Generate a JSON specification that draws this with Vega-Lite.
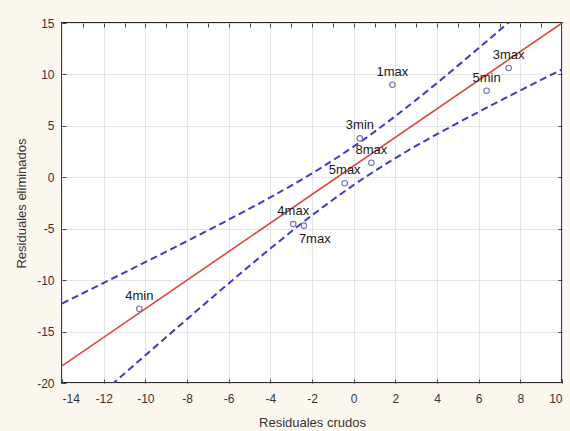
{
  "$schema": "https://vega.github.io/schema/vega-lite/v6.json",
  "autosize": {"type": "none"},
  "width": 500,
  "height": 360,
  "padding": {"left": 62, "top": 23, "right": 8, "bottom": 48},
  "background": "#fcf8ef",
  "config": {
    "view": {"stroke": "#2b2b2b", "strokeWidth": 1.8, "fill": "#ffffff"},
    "font": "Liberation Sans",
    "axis": {
      "labelFont": "Liberation Sans",
      "titleFont": "Liberation Sans",
      "labelFontSize": 12,
      "titleFontSize": 13,
      "labelColor": "#333333",
      "titleColor": "#333333",
      "titleFontWeight": "normal",
      "domain": false,
      "tickColor": "#444444",
      "gridColor": "#e4e4e8",
      "gridWidth": 1,
      "labelExpr": "replace(datum.label, '\u2212', '-')"
    }
  },
  "datasets": {
    "puntos": [
      {"crudo": -10.29, "elim": -12.78, "obs": "4min"},
      {"crudo": -2.9, "elim": -4.55, "obs": "4max"},
      {"crudo": -2.39, "elim": -4.7, "obs": "7max"},
      {"crudo": -0.43, "elim": -0.58, "obs": "5max"},
      {"crudo": 0.85, "elim": 1.42, "obs": "8max"},
      {"crudo": 0.3, "elim": 3.78, "obs": "3min"},
      {"crudo": 1.86, "elim": 9.0, "obs": "1max"},
      {"crudo": 6.38, "elim": 8.42, "obs": "5min"},
      {"crudo": 7.44, "elim": 10.62, "obs": "3max"}
    ],
    "ajuste": [
      {"crudo": -14, "elim": -18.34},
      {"crudo": 10, "elim": 15.0}
    ],
    "banda": [
      {"crudo": -14, "inf": -24.41, "sup": -12.27},
      {"crudo": -12, "inf": -20.85, "sup": -10.27},
      {"crudo": -10, "inf": -17.31, "sup": -8.25},
      {"crudo": -8, "inf": -13.79, "sup": -6.21},
      {"crudo": -6, "inf": -10.32, "sup": -4.12},
      {"crudo": -4, "inf": -6.93, "sup": -1.95},
      {"crudo": -2, "inf": -3.7, "sup": 0.38},
      {"crudo": 0, "inf": -0.75, "sup": 2.99},
      {"crudo": 2, "inf": 1.86, "sup": 5.94},
      {"crudo": 4, "inf": 4.19, "sup": 9.17},
      {"crudo": 6, "inf": 6.36, "sup": 12.56},
      {"crudo": 8, "inf": 8.45, "sup": 16.03},
      {"crudo": 10, "inf": 10.49, "sup": 19.55}
    ]
  },
  "resolve": {"axis": {"x": "independent", "y": "independent"}},
  "layer": [
    {
      "data": {"name": "ajuste"},
      "mark": {"type": "line", "color": "#d9473f", "strokeWidth": 1.6, "clip": true},
      "encoding": {
        "x": {
          "field": "crudo", "type": "quantitative",
          "scale": {"domain": [-14, 10], "nice": false, "zero": false},
          "axis": {
            "title": "Residuales crudos",
            "values": [-14, -12, -10, -8, -6, -4, -2, 0, 2, 4, 6, 8, 10],
            "grid": true, "tickSize": -4, "labelPadding": 14, "titlePadding": 12
          }
        },
        "y": {
          "field": "elim", "type": "quantitative",
          "scale": {"domain": [-20, 15], "nice": false, "zero": false},
          "axis": {
            "title": "Residuales eliminados",
            "values": [-20, -15, -10, -5, 0, 5, 10, 15],
            "grid": true, "tickSize": -4, "labelPadding": 12, "titlePadding": 8
          }
        }
      }
    },
    {
      "data": {"name": "banda"},
      "mark": {"type": "line", "color": "#3a3ac4", "strokeWidth": 2, "strokeDash": [7, 4], "interpolate": "monotone", "clip": true},
      "encoding": {
        "x": {"field": "crudo", "type": "quantitative", "axis": null},
        "y": {"field": "sup", "type": "quantitative", "axis": null}
      }
    },
    {
      "data": {"name": "banda"},
      "mark": {"type": "line", "color": "#3a3ac4", "strokeWidth": 2, "strokeDash": [7, 4], "interpolate": "monotone", "clip": true},
      "encoding": {
        "x": {"field": "crudo", "type": "quantitative", "axis": null},
        "y": {"field": "inf", "type": "quantitative", "axis": null}
      }
    },
    {
      "data": {"name": "puntos"},
      "mark": {"type": "point", "shape": "circle", "filled": false, "size": 30, "strokeWidth": 1.1, "color": "#6f6fb4", "opacity": 1},
      "encoding": {
        "x": {
          "field": "crudo", "type": "quantitative",
          "axis": {
            "orient": "top", "title": null, "labels": false, "grid": false,
            "values": [-13, -12, -11, -10, -9, -8, -7, -6, -5, -4, -3, -2, -1, 0, 1, 2, 3, 4, 5, 6, 7, 8, 9],
            "tickSize": -4
          }
        },
        "y": {
          "field": "elim", "type": "quantitative",
          "axis": {
            "orient": "right", "title": null, "labels": false, "grid": false,
            "values": [-15, -10, -5, 0, 5, 10],
            "tickSize": -4
          }
        }
      }
    },
    {
      "data": {"name": "puntos"},
      "transform": [{"filter": "datum.obs != '7max'"}],
      "mark": {"type": "text", "font": "Liberation Sans", "fontSize": 13, "color": "#1a1a1a", "align": "center", "baseline": "alphabetic", "dy": -9},
      "encoding": {
        "x": {"field": "crudo", "type": "quantitative", "axis": null},
        "y": {"field": "elim", "type": "quantitative", "axis": null},
        "text": {"field": "obs"}
      }
    },
    {
      "data": {"name": "puntos"},
      "transform": [{"filter": "datum.obs == '7max'"}],
      "mark": {"type": "text", "font": "Liberation Sans", "fontSize": 13, "color": "#1a1a1a", "align": "left", "baseline": "alphabetic", "dx": -5, "dy": 17},
      "encoding": {
        "x": {"field": "crudo", "type": "quantitative", "axis": null},
        "y": {"field": "elim", "type": "quantitative", "axis": null},
        "text": {"field": "obs"}
      }
    }
  ]
}
